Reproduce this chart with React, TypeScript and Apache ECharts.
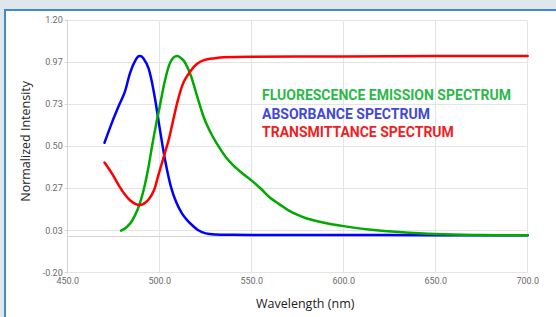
import React, { useEffect, useRef } from "react";
import * as echarts from "echarts";

// Absorbance spectrum (blue)
const absWavelength = [470, 474, 478, 481, 484, 487, 489, 491, 494, 497, 500, 503, 506, 509, 512, 515, 518, 521, 525, 530, 540, 560, 600, 650, 700];
const absValues = [0.52, 0.63, 0.73, 0.8, 0.91, 0.98, 1.0, 0.99, 0.93, 0.79, 0.6, 0.42, 0.28, 0.19, 0.13, 0.09, 0.06, 0.035, 0.018, 0.012, 0.01, 0.009, 0.009, 0.008, 0.007];

// Fluorescence emission spectrum (green)
const emWavelength = [479, 482, 485, 488, 490, 492, 494, 496, 498, 500, 503, 506, 509.5, 512, 514, 517, 520, 524, 528, 532, 536, 540, 545, 550, 555, 560, 565, 570, 575, 580, 590, 600, 615, 630, 650, 675, 700];
const emValues = [0.033, 0.052, 0.088, 0.15, 0.21, 0.29, 0.39, 0.51, 0.62, 0.72, 0.87, 0.97, 1.0, 0.985, 0.96, 0.89, 0.79, 0.66, 0.57, 0.5, 0.44, 0.395, 0.35, 0.31, 0.265, 0.215, 0.18, 0.145, 0.12, 0.1, 0.075, 0.058, 0.038, 0.025, 0.014, 0.009, 0.007];

// Transmittance spectrum (red)
const trWavelength = [470, 474, 478, 481, 484, 487, 489, 491, 494, 497, 499, 501, 503, 505, 507, 510, 513, 517, 520, 524, 530, 535, 550, 600, 650, 700];
const trValues = [0.41, 0.35, 0.28, 0.235, 0.2, 0.18, 0.175, 0.18, 0.205, 0.26, 0.33, 0.4, 0.47, 0.54, 0.63, 0.76, 0.855, 0.92, 0.955, 0.978, 0.988, 0.993, 0.996, 0.998, 1.0, 1.0];

const seriesNames = ["FLUORESCENCE EMISSION SPECTRUM", "ABSORBANCE SPECTRUM", "TRANSMITTANCE SPECTRUM"];
const xTicks = { min: 450, max: 700, step: 50 };
const yTicks = { min: -0.2, max: 1.2, step: 1.4 / 6 };

const pair = (xs: number[], ys: number[]) => xs.map((x, i) => [x, ys[i]]);

export default function App() {
  const ref = useRef<HTMLDivElement>(null);
  useEffect(() => {
    if (!ref.current) return;
    const chart = echarts.init(ref.current, null, { renderer: "svg" });
    const labelStyle = { color: "#6b6b6b", fontSize: 9, fontFamily: "Roboto" };
    const gridLine = { lineStyle: { color: "#e4e4e4", width: 1 } };
    const lineSeries = (name: string, xs: number[], ys: number[], color: string) => ({
      name,
      type: "line",
      data: pair(xs, ys),
      smooth: 0.35,
      showSymbol: false,
      lineStyle: { color, width: 2.5, cap: "round", join: "round" },
      itemStyle: { color },
    });
    chart.setOption({
      animation: false,
      grid: { left: 67.7, right: 28.3, top: 20, bottom: 44.3 },
      legend: {
        orient: "vertical",
        left: 257,
        top: 85.5,
        padding: 0,
        itemGap: 0,
        itemWidth: 0,
        itemHeight: 0,
        icon: "none",
        selectedMode: false,
        textStyle: { fontFamily: "Roboto", fontWeight: "bold", fontSize: 14, lineHeight: 18.7 },
        data: [
          { name: seriesNames[0], textStyle: { color: "#2db84b" } },
          { name: seriesNames[1], textStyle: { color: "#4349d6" } },
          { name: seriesNames[2], textStyle: { color: "#ef1f26" } },
        ],
      },
      xAxis: {
        type: "value",
        min: xTicks.min,
        max: xTicks.max,
        interval: xTicks.step,
        name: "Wavelength (nm)",
        nameLocation: "middle",
        nameGap: 24,
        nameTextStyle: { color: "#222", fontSize: 12.5, fontFamily: "Open Sans", padding: [0, 0, 0, 15] },
        axisLine: { lineStyle: { color: "#d4d4d4" } },
        axisTick: { show: false },
        axisLabel: { ...labelStyle, margin: 4, formatter: (v: number) => v.toFixed(1) },
        splitLine: { show: true, ...gridLine },
      },
      yAxis: {
        type: "value",
        min: yTicks.min,
        max: yTicks.max,
        interval: yTicks.step,
        name: "Normalized Intensity",
        nameLocation: "middle",
        nameGap: 36,
        nameTextStyle: { color: "#222", fontSize: 12.5, fontFamily: "Open Sans", padding: [0, 0, 0, 10] },
        axisLine: { show: true, lineStyle: { color: "#d4d4d4" } },
        axisTick: { show: true, length: 3, lineStyle: { color: "#d4d4d4" } },
        axisLabel: { ...labelStyle, margin: 5, formatter: (v: number) => v.toFixed(2) },
        splitLine: { show: true, ...gridLine },
      },
      series: [
        lineSeries(seriesNames[1], absWavelength, absValues, "#0000ff"),
        lineSeries(seriesNames[0], emWavelength, emValues, "#00aa00"),
        lineSeries(seriesNames[2], trWavelength, trValues, "#ff0000"),
      ],
    });
    return () => chart.dispose();
  }, []);

  return (
    <div style={{ position: "fixed", left: 0, top: 0, width: 556, height: 317, background: "#dfe6ec", overflow: "hidden" }}>
      <div
        style={{
          position: "absolute",
          left: 4,
          top: 9,
          right: 0,
          bottom: 0,
          background: "#ffffff",
          borderLeft: "2px solid #3d8bd3",
          borderTop: "2px solid #3d8bd3",
        }}
      />
      <div ref={ref} style={{ position: "absolute", left: 0, top: 0, width: 556, height: 317 }} />
    </div>
  );
}
